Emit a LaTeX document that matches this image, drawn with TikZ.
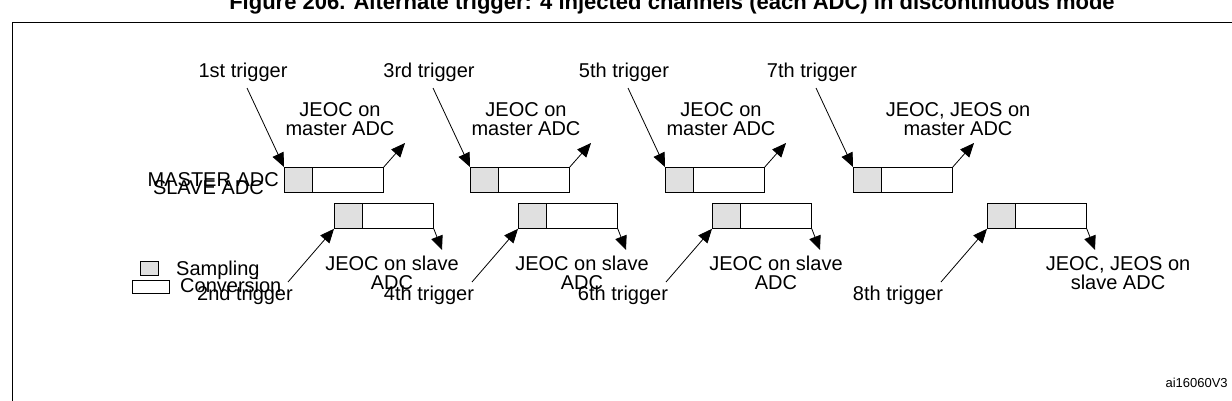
\documentclass[tikz,border=0pt]{standalone}
\usepackage{fontspec}
\setmainfont{Liberation Sans}
\usetikzlibrary{arrows.meta,positioning}
\tikzset{
  conv/.style={draw, thick, minimum width=99pt, minimum height=25pt, inner sep=0pt, anchor=north west},
  samp/.style={draw, thick, fill=black!12, minimum width=28pt, minimum height=25pt, inner sep=0pt, anchor=north west},
  lbl/.style={font=\fontsize{20}{19}\selectfont, align=center, inner sep=1pt},
  trig/.style={thick, -{Triangle[length=14pt,width=12pt]}},
}
\begin{document}
\begin{tikzpicture}[x=1pt,y=-1pt]
  \useasboundingbox (0,0) rectangle (1232,401);
  \draw[thick] (12,410) -- (12,22) -- (1240,22);
  \node[font=\bfseries\fontsize{22}{22}\selectfont] (title) at (672,4)
    {Figure 206. Alternate trigger: 4 injected channels (each ADC) in discontinuous mode};

  % master ADC blocks
  \foreach \n/\x/\tl/\jd/\txt in {1/284/1st/56/{JEOC on\\master ADC},2/470/3rd/56/{JEOC on\\master ADC},
      3/665/5th/56/{JEOC on\\master ADC},4/853/7th/105/{JEOC, JEOS on\\master ADC}}{
    \node[conv] (m\n) at (\x,167) {};
    \node[samp] (ms\n) at (\x,167) {};
    \node[lbl] (t\n) at (\x-41,72) {\tl\ trigger};
    \coordinate (ta\n) at (\x-37,88);
    \draw[trig] (ta\n) -- (m\n.north west);
    \coordinate (je\n) at (\x+121,143);
    \draw[trig] (m\n.north east) -- (je\n);
    \node[lbl] (jl\n) at (\x+\jd,119) {\txt};
  }
  % slave ADC blocks
  \foreach \n/\x/\tl/\jd/\txt in {1/334/2nd/58/{JEOC on slave\\ADC},2/518/4th/64/{JEOC on slave\\ADC},
      3/712/6th/64/{JEOC on slave\\ADC},4/987/8th/131/{JEOC, JEOS on\\slave ADC}}{
    \node[conv] (s\n) at (\x,203) {};
    \node[samp] (ss\n) at (\x,203) {};
    \node[lbl] (u\n) at (\x-89,295) {\tl\ trigger};
    \coordinate (ua\n) at (\x-46,282);
    \draw[trig] (ua\n) -- (s\n.south west);
    \coordinate (js\n) at (\x+108,250);
    \draw[trig] (s\n.south east) -- (js\n);
    \node[lbl] (sl\n) at (\x+\jd,273) {\txt};
  }
  \node[lbl, left=4pt of ms1] {MASTER ADC};
  \node[lbl, anchor=east] at (265,188) {SLAVE ADC};

  % legend
  \node[samp, minimum width=18pt, minimum height=14pt, thin, anchor=center] (lgs) at (149,268) {};
  \node[lbl, anchor=west] at (175,270) {Sampling};
  \node[conv, minimum width=37pt, minimum height=13pt, thin, anchor=center] (lgc) at (151,287) {};
  \node[lbl, anchor=west] at (179,285) {Conversion};
  \node[font=\fontsize{13}{13}\selectfont, anchor=west] (ref) at (1162,383) {ai16060V3};
\end{tikzpicture}
\end{document}
